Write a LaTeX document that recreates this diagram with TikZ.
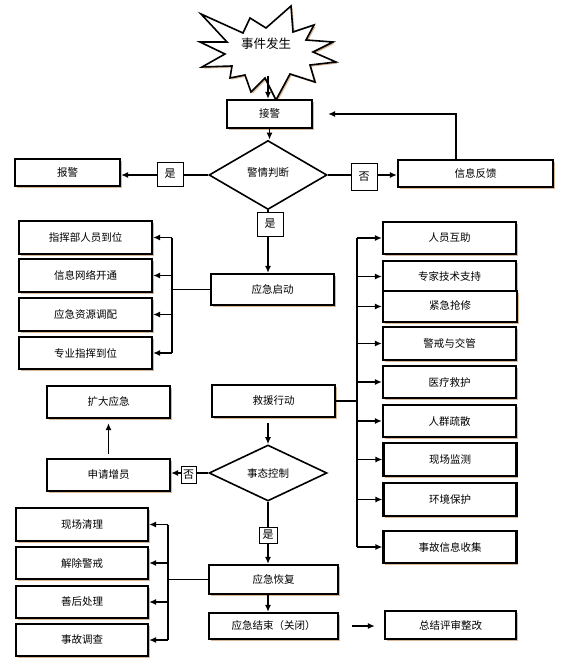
\documentclass[tikz,border=0pt]{standalone}
\usepackage{fontspec}
\setmainfont{Noto Sans CJK SC}
\usetikzlibrary{shapes.geometric,arrows.meta,shadows}
\definecolor{shc}{RGB}{205,160,115}
\begin{document}
\begin{tikzpicture}[x=1pt,y=-1pt,
  shd/.style={drop shadow={shadow xshift=1.6pt,shadow yshift=-1.6pt,fill=shc,opacity=0.75}},
  box/.style={draw,line width=2.2pt,fill=white,inner sep=0pt,shd,
    font=\fontsize{10.5}{12}\selectfont},
  dia/.style={draw,diamond,line width=1.6pt,fill=white,inner sep=0pt,
    font=\fontsize{10.5}{12}\selectfont},
  lab/.style={draw,line width=0.8pt,fill=white,inner sep=0pt,
    font=\fontsize{11}{12}\selectfont},
  line/.style={line width=1.6pt},
  conn/.style={line width=1.6pt,-{Latex[length=7pt,width=6pt]}}]
\useasboundingbox (0,0) rectangle (582,663);
\fill[white] (0,0) rectangle (582,663);

% ---- event starburst
\draw[line width=1.6pt,fill=white,line join=miter,shd]
  (201,14) -- (243,33) -- (250,18) -- (266,28) -- (291,6) -- (293,32) --
  (314,25) -- (306,40) -- (333,42) -- (313,52) -- (336,62) -- (310,65) --
  (315,82) -- (290,74) -- (276,100) -- (265,78) -- (251,92) -- (245,75) --
  (230,78) -- (232,66) -- (202,67) -- (225,54) -- (200,42) -- (227,42) -- cycle;
\node[font=\fontsize{12.5}{14}\selectfont] (ev) at (266,44) {事件发生};
\coordinate (evb) at (268,76);

% ---- top part
\node[box,minimum width=85pt,minimum height=28pt] (jj) at (269.5,114) {接警};
\node[dia,minimum width=118pt,minimum height=69pt] (d1) at (268,175) {\raisebox{5pt}{警情判断}};
\node[box,minimum width=105pt,minimum height=27pt] (bj) at (67.5,172.5) {报警};
\node[box,minimum width=155pt,minimum height=27pt] (fb) at (475.5,173.5) {信息反馈};

\draw[conn] (evb) -- (evb |- jj.north);
\draw[conn] (jj.south) -- (jj.south |- d1.north);
\draw[conn] (d1.west) -- (d1.west -| bj.east);
\draw[conn] (d1.east) -- (d1.east -| fb.west);
\draw[conn] ([xshift=-19.5pt]fb.north) |- ([xshift=15pt]jj.east);

% ---- 应急启动 and left group
\node[box,minimum width=123pt,minimum height=31pt] (qd) at (272.5,289.5) {应急启动};
\draw[conn] (d1.south) -- (d1.south |- qd.north);
\node[lab,minimum width=26pt,minimum height=24pt] (y2) at (270,224) {是};
\node[lab,minimum width=26pt,minimum height=24pt] (y1) at (170,174) {是};
\node[lab,minimum width=26pt,minimum height=27pt] (n1) at (364,177) {否};

\node[box,minimum width=133pt,minimum height=33pt] (L1) at (85.5,237.5) {指挥部人员到位};
\node[box,minimum width=133pt,minimum height=33pt] (L2) at (85.5,275.5) {信息网络开通};
\node[box,minimum width=133pt,minimum height=33pt] (L3) at (85.5,314.5) {应急资源调配};
\node[box,minimum width=133pt,minimum height=32pt] (L4) at (85.5,353) {专业指挥到位};
\coordinate (b1) at (172,0);
\draw[line] (qd.west) -- (qd.west -| b1);
\draw[line] (L1.east -| b1) -- (L4.east -| b1);
\foreach \n in {L1,L2,L3,L4} \draw[conn] (\n.east -| b1) -- (\n.east);

% ---- 救援行动 and right group
\node[box,minimum width=123pt,minimum height=32pt] (jy) at (273.5,401) {救援行动};
\node[box,minimum width=133pt,minimum height=32pt] (R1) at (449.5,238) {人员互助};
\node[box,minimum width=133pt,minimum height=31pt] (R2) at (449.5,276.5) {专家技术支持};
\node[box,minimum width=134pt,minimum height=31pt] (R3) at (450,306.5) {\raisebox{2pt}{紧急抢修}};
\node[box,minimum width=133pt,minimum height=33pt] (R4) at (449.5,343.5) {警戒与交管};
\node[box,minimum width=133pt,minimum height=32pt] (R5) at (449.5,382) {医疗救护};
\node[box,minimum width=133pt,minimum height=32pt] (R6) at (449.5,421) {人群疏散};
\node[box,minimum width=133pt,minimum height=33pt] (R7) at (450,459.5) {现场监测};
\node[box,minimum width=133pt,minimum height=33pt] (R8) at (450,499.5) {环境保护};
\node[box,minimum width=133pt,minimum height=32pt] (R9) at (450,547) {事故信息收集};
\coordinate (b2) at (357,0);
\draw[line] (jy.east) -- (jy.east -| b2);
\draw[line] (R1.west -| b2) -- (R9.west -| b2);
\foreach \n in {R1,R2,R3,R4,R5,R6,R7,R8,R9} \draw[conn] (\n.west -| b2) -- (\n.west);

% ---- 事态控制
\node[dia,minimum width=118pt,minimum height=56pt] (d2) at (268,473) {事态控制};
\node[box,minimum width=123pt,minimum height=32pt] (kd) at (108.5,402) {扩大应急};
\node[box,minimum width=123pt,minimum height=32pt] (sq) at (108.5,475) {申请增员};
\draw[conn,shorten <=5pt] (d2.north |- jy.south) -- (d2.north);
\draw[conn] (d2.west) -- (d2.west -| sq.east);
\draw[conn,shorten <=4pt,shorten >=4pt] (sq.north) -- (sq.north |- kd.south);
\node[lab,minimum width=15pt,minimum height=17pt] (n2) at (188.5,474.5) {否};

% ---- 应急恢复 and bottom-left group
\node[box,minimum width=129pt,minimum height=29pt] (hf) at (273.5,579.5) {应急恢复};
\draw[conn] (d2.south) -- (d2.south |- hf.north);
\node[lab,minimum width=18pt,minimum height=16pt] (y3) at (268,535) {是};

\node[box,minimum width=132pt,minimum height=33pt] (B1) at (82,524.5) {现场清理};
\node[box,minimum width=132pt,minimum height=32pt] (B2) at (82,563) {解除警戒};
\node[box,minimum width=132pt,minimum height=32pt] (B3) at (82,602) {善后处理};
\node[box,minimum width=132pt,minimum height=32pt] (B4) at (82,640) {事故调查};
\coordinate (b3) at (168,0);
\draw[line] (hf.west) -- (hf.west -| b3);
\draw[line] (B1.east -| b3) -- (B4.east -| b3);
\foreach \n in {B1,B2,B3,B4} \draw[conn] (\n.east -| b3) -- (\n.east);

% ---- end
\node[box,minimum width=129pt,minimum height=26pt] (js) at (273.5,626) {应急结束（关闭）};
\node[box,minimum width=131pt,minimum height=28pt] (zj) at (450.5,625) {总结评审整改};
\draw[conn] (d2.south |- hf.south) -- (d2.south |- js.north);
\draw[conn,shorten <=13pt,shorten >=9pt] (js.east) -- (js.east -| zj.west);
\end{tikzpicture}
\end{document}
